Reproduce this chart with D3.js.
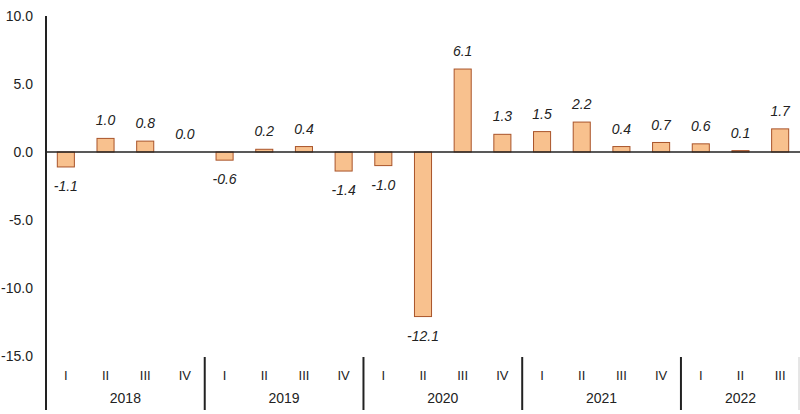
<!DOCTYPE html>
<html>
<head>
<meta charset="utf-8">
<script src="https://cdn.jsdelivr.net/npm/d3@7"></script>
<style>
  body { margin: 0; background: #fff; }
  text { font-family: Arial, "Liberation Sans", sans-serif; fill: #222; }
</style>
</head>
<body>
<div id="chart"></div>
<script>
// quarterly values
let years = ["2018", "2019", "2020", "2021", "2022"];
let quarters = ["I", "II", "III", "IV"];
let values = [-1.1, 1.0, 0.8, 0.0,
              -0.6, 0.2, 0.4, -1.4,
              -1.0, -12.1, 6.1, 1.3,
              1.5, 2.2, 0.4, 0.7,
              0.6, 0.1, 1.7];
let yTicks = [10, 5, 0, -5, -10, -15];

let w = 800;
let h = 414;

// plain hyphen minus like the original
let fmt = function(v) { return v.toFixed(1); };

// one entry per quarter
let data = values.map(function(v, i) {
    return { key: i, q: quarters[i % 4], year: years[Math.floor(i / 4)], v: v };
});

let x = d3.scaleBand()
    .domain(data.map(function(d) { return d.key; }))
    .range([46, 800])
    .paddingInner(0.57)
    .paddingOuter(0.285);

let y = d3.scaleLinear()
    .domain([-15, 10])
    .range([356, 16]);

let svg = d3.select("#chart")
    .append("svg")
    .attr("width", w)
    .attr("height", h);

// y tick labels
svg.append("g")
    .selectAll("text")
    .data(yTicks)
    .enter()
    .append("text")
    .attr("x", 33)
    .attr("y", function(d) { return y(d); })
    .attr("dy", "0.36em")
    .attr("text-anchor", "end")
    .attr("font-size", "14px")
    .text(fmt);

// bars
svg.append("g")
    .selectAll("rect")
    .data(data)
    .enter()
    .append("rect")
    .attr("x", function(d) { return x(d.key); })
    .attr("width", x.bandwidth())
    .attr("y", function(d) { return y(Math.max(d.v, 0)); })
    .attr("height", function(d) { return Math.abs(y(d.v) - y(0)); })
    .attr("fill", "#f8c18e")
    .attr("stroke", "#a9542a")
    .attr("stroke-width", 1);

// zero line
svg.append("line")
    .attr("x1", 46).attr("x2", 800)
    .attr("y1", y(0)).attr("y2", y(0))
    .attr("stroke", "#222")
    .attr("stroke-width", 1.5);

// value labels
svg.append("g")
    .selectAll("text")
    .data(data)
    .enter()
    .append("text")
    .attr("x", function(d) { return x(d.key) + x.bandwidth() / 2; })
    .attr("y", function(d) {
        return d.v >= 0 ? y(d.v) - 18 : y(d.v) + 19;
    })
    .attr("dy", "0.36em")
    .attr("text-anchor", "middle")
    .attr("font-size", "14px")
    .attr("font-style", "italic")
    .text(function(d) { return fmt(d.v); });

// y axis line
svg.append("line")
    .attr("x1", 46).attr("x2", 46)
    .attr("y1", 16).attr("y2", 410)
    .attr("stroke", "#222")
    .attr("stroke-width", 2);

// quarter labels
svg.append("g")
    .selectAll("text")
    .data(data)
    .enter()
    .append("text")
    .attr("x", function(d) { return x(d.key) + x.bandwidth() / 2; })
    .attr("y", 375)
    .attr("dy", "0.36em")
    .attr("text-anchor", "middle")
    .attr("font-size", "13px")
    .text(function(d) { return d.q; });

// year labels and separators
let step = x.step();
let x0 = x.range()[0];

svg.append("g")
    .selectAll("text")
    .data(years)
    .enter()
    .append("text")
    .attr("x", function(d, i) {
        let n = Math.min(4, values.length - i * 4);
        return x0 + i * 4 * step + n * step / 2;
    })
    .attr("y", 398)
    .attr("dy", "0.36em")
    .attr("text-anchor", "middle")
    .attr("font-size", "14px")
    .text(function(d) { return d; });

svg.append("g")
    .selectAll("line")
    .data(years.slice(1))
    .enter()
    .append("line")
    .attr("x1", function(d, i) { return x0 + (i + 1) * 4 * step; })
    .attr("x2", function(d, i) { return x0 + (i + 1) * 4 * step; })
    .attr("y1", 357)
    .attr("y2", 410)
    .attr("stroke", "#222")
    .attr("stroke-width", 2);

svg.append("line")
    .attr("x1", 799).attr("x2", 799)
    .attr("y1", 357).attr("y2", 410)
    .attr("stroke", "#ccc")
    .attr("stroke-width", 1);
</script>
</body>
</html>
